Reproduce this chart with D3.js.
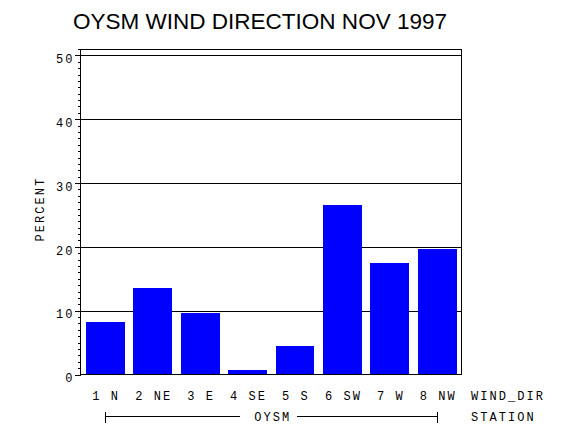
<!DOCTYPE html>
<html>
<head>
<meta charset="utf-8">
<script src="https://cdn.jsdelivr.net/npm/d3@7/dist/d3.min.js"></script>
<style>
  html, body { margin: 0; padding: 0; background: #fff; }
  svg { display: block; }
  .mono { font-family: "Liberation Mono", "DejaVu Sans Mono", monospace; font-size: 12px; letter-spacing: 2.05px; fill: #000; }
</style>
</head>
<body>
<svg id="chart" width="570" height="430"></svg>
<script>
// ---- data ----
const categories = ["1 N", "2 NE", "3 E", "4 SE", "5 S", "6 SW", "7 W", "8 NW"];
const percents   = [8.2, 13.5, 9.6, 0.7, 4.4, 26.6, 17.4, 19.7];
const yTicks     = [0, 10, 20, 30, 40, 50];
const titleText  = "OYSM WIND DIRECTION NOV 1997";
const yLabel     = "PERCENT";
const xLabel     = "WIND_DIR";
const groupLabel = "OYSM";
const groupTitle = "STATION";

(function () {
const LS = 2.05;
const svg = d3.select("#chart");
const pLeft = 80.5, pRight = 461, pTop = 49, pBottom = 374.5;

const x = d3.scaleBand().domain(categories).range([pLeft + 1, pRight]).paddingInner(0.18).paddingOuter(0.09);
const y = d3.scaleLinear().domain([0, 51]).range([pBottom, pTop]);

// title
svg.append("text")
  .attr("x", 260).attr("y", 28.5)
  .attr("text-anchor", "middle")
  .attr("textLength", 374).attr("lengthAdjust", "spacingAndGlyphs")
  .style("font-family", "'Liberation Sans', Arial, sans-serif")
  .style("font-size", "22px")
  .text(titleText);

// gridlines
svg.append("g").selectAll("line").data(yTicks.filter(d => d > 0)).join("line")
  .attr("x1", pLeft).attr("x2", pRight)
  .attr("y1", d => Math.round(y(d)) + 0.5).attr("y2", d => Math.round(y(d)) + 0.5)
  .attr("stroke", "#000").attr("stroke-width", 1).attr("shape-rendering", "crispEdges");

// bars
svg.append("g").selectAll("rect").data(categories).join("rect")
  .attr("x", d => x(d))
  .attr("width", x.bandwidth())
  .attr("y", (d, i) => y(percents[i]))
  .attr("height", (d, i) => y(0) - y(percents[i]))
  .attr("fill", "#0000ff")
  .attr("shape-rendering", "crispEdges");

// frame
svg.append("rect")
  .attr("x", pLeft).attr("y", pTop + 0.5)
  .attr("width", pRight - pLeft).attr("height", pBottom - pTop - 0.5)
  .attr("fill", "none").attr("stroke", "#000").attr("stroke-width", 1)
  .attr("shape-rendering", "crispEdges");

// minor ticks
const minorVals = d3.range(0, 52).filter(d => d % 10 !== 0);
const minorAxis = d3.axisLeft(y).tickValues(minorVals).tickSize(3).tickFormat("");
const gMinor = svg.append("g").attr("transform", `translate(${pLeft},0)`).call(minorAxis);
gMinor.select(".domain").remove();
gMinor.selectAll("line").attr("shape-rendering", "crispEdges");

// major ticks
const majorAxis = d3.axisLeft(y).tickValues(yTicks).tickSize(6).tickPadding(7).tickFormat(d3.format("d"));
const gMajor = svg.append("g").attr("transform", `translate(${pLeft},0)`).call(majorAxis);
gMajor.select(".domain").remove();
gMajor.attr("font-family", null).attr("font-size", null);
gMajor.selectAll("line").attr("shape-rendering", "crispEdges");
gMajor.selectAll("text")
  .attr("class", "mono")
  .attr("dy", "0.6em")
  .attr("x", -7 + LS - 1);

// y label
svg.append("text").attr("class", "mono")
  .attr("transform", `translate(44, ${208 + LS / 2}) rotate(-90)`)
  .attr("text-anchor", "middle")
  .text(yLabel);

// x category labels
svg.append("g").selectAll("text").data(categories).join("text")
  .attr("class", "mono")
  .attr("x", d => x(d) + x.bandwidth() / 2 + LS / 2)
  .attr("y", 400)
  .attr("text-anchor", "middle")
  .text(d => d);

svg.append("text").attr("class", "mono")
  .attr("x", 471).attr("y", 400).text(xLabel);

// group bracket
const gx1 = x(categories[0]) + x.bandwidth() / 2;
const gx2 = x(categories[categories.length - 1]) + x.bandwidth() / 2;
const gy = 416.5;
const gmid = (pLeft + pRight) / 2;
const g = svg.append("g").attr("stroke", "#000").attr("stroke-width", 1).attr("shape-rendering", "crispEdges");
g.append("line").attr("x1", gx1).attr("x2", gmid - 31).attr("y1", gy).attr("y2", gy);
g.append("line").attr("x1", gmid + 26).attr("x2", gx2).attr("y1", gy).attr("y2", gy);
g.append("line").attr("x1", Math.round(gx1) + 0.5).attr("x2", Math.round(gx1) + 0.5).attr("y1", gy - 5).attr("y2", gy + 6);
g.append("line").attr("x1", Math.round(gx2) + 0.5).attr("x2", Math.round(gx2) + 0.5).attr("y1", gy - 5).attr("y2", gy + 6);

svg.append("text").attr("class", "mono")
  .attr("x", gmid + 1 + LS / 2).attr("y", 421)
  .attr("text-anchor", "middle").text(groupLabel);

svg.append("text").attr("class", "mono")
  .attr("x", 471).attr("y", 420.5).text(groupTitle);
})();
</script>
</body>
</html>
